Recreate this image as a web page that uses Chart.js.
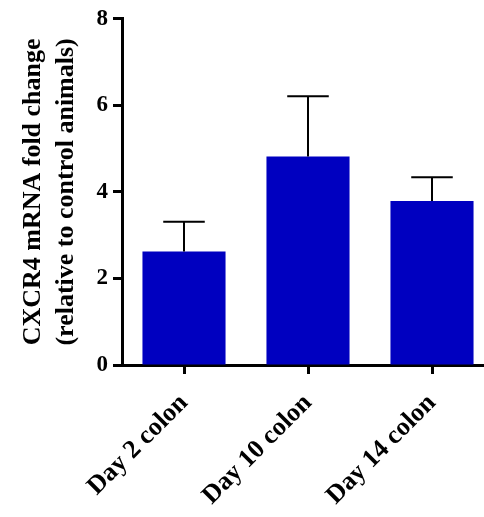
<!DOCTYPE html>
<html>
<head>
<meta charset="utf-8">
<script src="https://cdn.jsdelivr.net/npm/chart.js@4"></script>
<style>
  html, body { margin: 0; padding: 0; overflow: hidden; background: #fff; }
</style>
</head>
<body>
<canvas id="myChart" width="500" height="517"></canvas>
<script>
var categories = ["Day 2 colon", "Day 10 colon", "Day 14 colon"];
var foldChange = [2.62, 4.82, 3.79];
var errorTop = [3.31, 6.21, 4.34];
var yTicks = [0, 2, 4, 6, 8];

var FONT = "'Liberation Serif', 'DejaVu Serif', serif";

// draws the upper error bars (stem + cap) using the chart scales
var errorBars = {
  id: 'errorBars',
  afterDatasetsDraw: function(chart) {
    var ctx = chart.ctx;
    var y = chart.scales.y;
    var meta = chart.getDatasetMeta(0);
    ctx.save();
    ctx.strokeStyle = '#000';
    ctx.lineWidth = 2;
    meta.data.forEach(function(bar, i) {
      var top = y.getPixelForValue(errorTop[i]);
      var half = bar.width / 4;
      ctx.beginPath();
      ctx.moveTo(bar.x, bar.y);
      ctx.lineTo(bar.x, top);
      ctx.moveTo(bar.x - half, top);
      ctx.lineTo(bar.x + half, top);
      ctx.stroke();
    });
    ctx.restore();
  }
};

function init() {
  var ctx = document.getElementById('myChart').getContext('2d');
  var chart = new Chart(ctx, {
    type: 'bar',
    data: {
      labels: categories,
      datasets: [{
        data: foldChange,
        backgroundColor: '#0000C0',
        borderWidth: 0,
        barPercentage: 0.67,
        categoryPercentage: 1.0
      }]
    },
    options: {
      responsive: false,
      animation: false,
      layout: { padding: { top: 17, right: 6, left: 0, bottom: 0 } },
      plugins: {
        legend: { display: false },
        tooltip: { enabled: false }
      },
      scales: {
        x: {
          afterFit: function(scale) { scale.height = 152; },
          border: { color: '#000', width: 3 },
          grid: { drawOnChartArea: false, offset: false, tickLength: 9, tickWidth: 3, tickColor: '#000' },
          ticks: {
            color: '#000',
            maxRotation: 45,
            minRotation: 45,
            padding: 14,
            font: { family: FONT, size: 26, weight: 'bold' }
          }
        },
        y: {
          min: 0,
          max: 8,
          afterFit: function(scale) { scale.width = 122; },
          afterBuildTicks: function(scale) {
            scale.ticks = yTicks.map(function(v) { return { value: v }; });
          },
          border: { color: '#000', width: 3 },
          grid: { drawOnChartArea: false, tickLength: 9, tickWidth: 3, tickColor: '#000' },
          ticks: {
            color: '#000',
            padding: 5,
            font: { family: FONT, size: 23, weight: 'bold' }
          },
          title: {
            display: true,
            text: ['CXCR4 mRNA fold change', '(relative to control animals)'],
            color: '#000',
            padding: { top: 16, bottom: 0 },
            font: { family: FONT, size: 26, weight: 'bold', lineHeight: 1.3 }
          }
        }
      }
    },
    plugins: [errorBars]
  });
}

init();
</script>
</body>
</html>
